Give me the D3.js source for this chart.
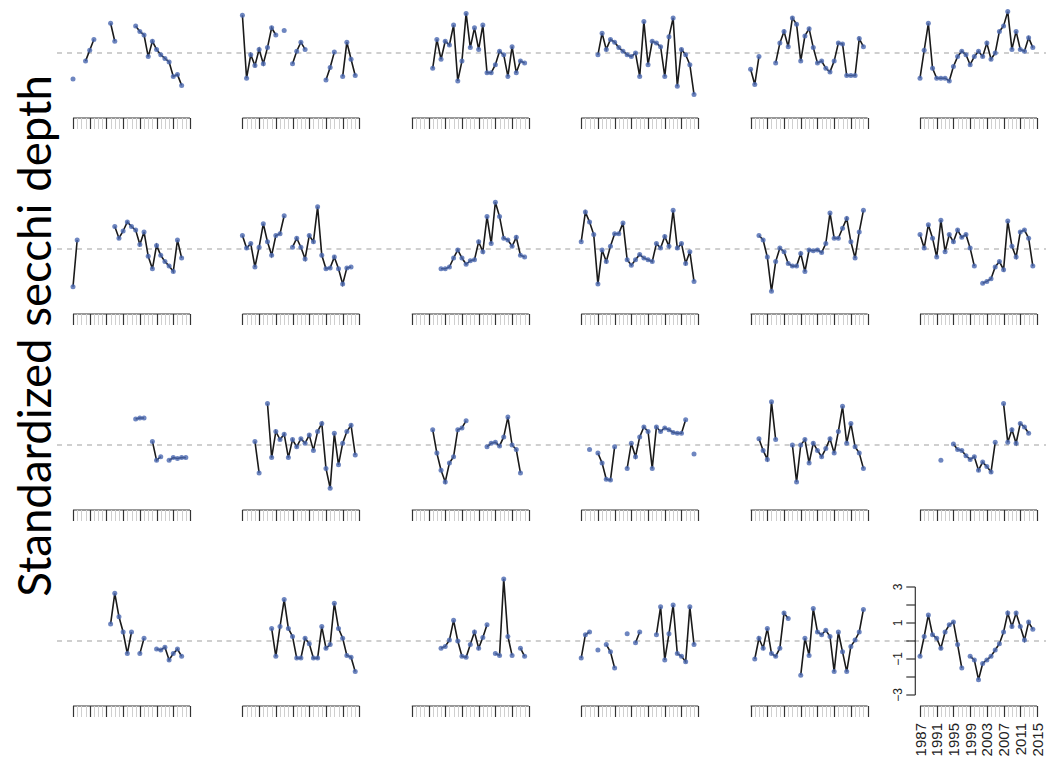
<!DOCTYPE html>
<html>
<head>
<meta charset="utf-8">
<script src="https://cdn.jsdelivr.net/npm/d3@7"></script>
<style>
  body { margin: 0; background: #fff; }
</style>
</head>
<body>
<script>

// years 1987..2015, null = no observation
let years = d3.range(1987, 2016)
let yearTicks = [1987, 1991, 1995, 1999, 2003, 2007, 2011, 2015]
let yTicks = [-3, -2, -1, 0, 1, 2, 3]
let yTickLabels = [3, 1, -1, -3]

// row 1
let s01 = [-1.45, null, null, -0.45, 0.15, 0.75, null, null, null, 1.65, 0.65, null, null, null, null, 1.5, 1.2, 1.0, -0.2, 0.65, 0.2, -0.1, -0.3, -0.5, -1.3, -1.2, -1.8, null, null]
let s02 = [2.1, -1.4, -0.1, -0.7, 0.2, -0.6, 0.3, 1.4, 1.0, null, 1.25, null, -0.6, 0.1, 0.6, 0.2, null, null, null, null, -1.5, -0.8, 0.05, null, -1.3, 0.6, -0.35, -1.25, null]
let s03 = [null, null, null, null, null, -0.85, 0.75, -0.35, 0.65, 0.45, 1.55, -1.55, -0.45, 2.2, 0.3, 1.4, 0.2, 1.55, -1.1, -1.1, -0.65, 0.1, -0.1, -1.3, 0.35, -1.1, -0.45, -0.55, null]
let s04 = [null, null, null, null, -0.1, 1.1, 0.2, 0.75, 0.6, 0.3, 0.1, -0.1, -0.2, 0.0, -1.3, 1.75, -0.65, 0.65, 0.55, 0.35, -1.3, 0.9, 1.95, -1.85, 0.2, -0.1, -0.65, -2.3, null]
let s05 = [-0.9, -1.75, -0.2, null, null, null, -0.55, 0.55, 1.2, 0.35, 1.95, 1.6, -0.45, 0.95, 1.35, 0.3, -0.55, -0.45, -0.85, -1.05, -0.45, 0.55, 0.5, -1.25, -1.25, -1.25, 0.8, 0.35, null]
let s06 = [-1.4, 0.15, 1.65, -0.85, -1.4, -1.4, -1.4, -1.55, -0.75, -0.2, 0.1, -0.1, -0.65, -0.2, 0.1, -0.2, 0.55, -0.35, 0.0, 1.2, 1.5, 2.3, 0.2, 1.2, 0.2, 0.1, 0.85, 0.3, null]
// row 2
let s07 = [-2.1, 0.5, null, null, null, null, null, null, null, null, 1.25, 0.6, 1.0, 1.5, 1.25, 1.05, 0.25, 0.95, -0.4, -1.1, 0.2, -0.35, -0.7, -0.95, -1.25, 0.5, -0.5, null, null]
let s08 = [0.75, 0.05, 0.3, -1.0, 0.1, 1.4, 0.4, -0.35, 0.75, 0.85, 1.85, null, 0.1, 0.6, 0.1, -0.55, 0.75, 0.4, 2.35, -0.35, -1.1, -1.05, -0.45, -1.1, -1.95, -1.05, -1.0, null, null]
let s09 = [null, null, null, null, null, null, null, -1.1, -1.1, -1.0, -0.5, -0.05, -0.5, -0.85, -0.65, -0.6, 0.4, -0.15, 1.8, 0.3, 2.6, 1.8, 0.6, 0.5, 0.15, 0.65, -0.35, -0.45, null]
let s10 = [0.4, 2.05, 1.5, 0.8, -1.95, -0.05, -0.7, 0.15, 0.85, 0.85, 1.45, -0.6, -0.9, -0.6, -0.3, -0.5, -0.6, -0.7, 0.3, 0.05, 0.7, 0.15, 2.15, 0.05, 0.3, -0.8, -0.15, -1.8, null]
let s11 = [null, null, 0.75, 0.5, -0.45, -2.35, -0.7, 0.05, -0.15, -0.8, -0.95, -0.95, -0.25, -1.25, -0.05, -0.1, -0.05, -0.2, 0.3, 2.0, 0.6, 0.6, 1.15, 1.7, 0.4, -0.5, 0.95, 2.15, null]
let s12 = [0.8, 0.05, 1.35, 0.6, -0.45, 1.6, -0.15, 0.8, 0.4, 1.05, 0.65, 0.8, 0.05, -0.95, null, -1.9, -1.8, -1.65, -1.0, -0.7, -1.15, 1.55, 0.15, -0.45, 0.95, 1.05, 0.6, -0.95, null]
// row 3
let s13 = [null, null, null, null, null, null, null, null, null, null, null, null, null, null, null, 1.45, 1.5, 1.5, null, 0.2, -0.85, -0.65, null, -0.85, -0.7, -0.75, -0.7, -0.7, null]
let s14 = [null, null, null, 0.2, -1.55, null, 2.3, -0.7, 0.75, 0.3, 0.6, -0.7, 0.3, -0.1, 0.35, 0.1, 0.55, -0.3, 0.75, 1.2, -1.3, -2.4, 0.65, -1.1, 0.1, 0.75, 1.1, -0.55, null]
let s15 = [null, null, null, null, null, 0.85, -0.45, -1.4, -2.05, -1.0, -0.65, 0.85, 0.95, 1.35, null, null, null, null, -0.1, 0.1, 0.15, -0.05, 0.45, 1.55, 0.0, -0.25, -1.55, null, null]
let s16 = [null, null, -0.25, null, -0.45, -1.0, -1.9, -1.95, -0.1, null, null, -1.3, 0.1, -0.65, 0.45, 1.0, 0.75, -1.3, 1.0, 0.75, 0.95, 0.85, 0.7, 0.65, 0.65, 1.4, null, -0.5, null]
let s17 = [null, null, 0.35, -0.3, -0.8, 2.4, 0.3, null, null, null, 0.0, -2.05, 0.0, 0.3, -1.0, 0.1, -0.3, -0.65, -0.2, 0.35, -0.45, 0.75, 2.15, 0.1, 1.2, -0.1, -0.45, -1.3, null]
let s18 = [null, null, null, null, null, -0.85, null, null, 0.05, -0.25, -0.3, -0.6, -0.8, -0.65, -1.4, -0.95, -1.2, -1.5, 0.15, null, 2.3, 0.15, 0.85, 0.1, 1.2, 1.0, 0.65, null, null]
// row 4
let s19 = [null, null, null, null, null, null, null, null, null, 0.95, 2.65, 1.35, 0.5, -0.7, 0.5, null, -0.7, 0.15, null, null, -0.45, -0.5, -0.35, -1.05, -0.7, -0.45, -0.85, null, null]
let s20 = [null, null, null, null, null, null, null, 0.7, -0.85, 0.8, 2.3, 0.7, 0.25, -0.95, -0.95, 0.15, -0.15, -0.95, -0.95, 0.8, -0.4, -0.2, 2.1, 0.7, 0.15, -0.8, -0.9, -1.7, null]
let s21 = [null, null, null, null, null, null, null, -0.4, -0.3, 0.05, 1.15, 0.0, -0.85, -0.9, -0.2, 0.5, -0.4, 0.2, 0.9, null, -0.7, -0.8, 3.45, 0.25, -0.8, null, -0.4, -0.85, null]
let s22 = [-0.95, 0.35, 0.5, null, -0.5, null, -0.2, -0.6, -1.5, null, null, 0.4, null, -0.1, 0.5, null, null, null, 0.35, 1.9, -1.05, 0.4, 2.0, -0.7, -0.85, -1.15, 1.9, -0.2, null]
let s23 = [null, -1.0, 0.15, -0.4, 0.7, -0.7, -0.85, -0.4, 1.55, 1.25, null, null, -1.9, 0.15, -0.8, 1.8, 0.5, 0.35, 0.6, 0.25, -1.7, 0.5, -0.6, -1.7, -0.3, 0.05, 0.5, 1.75, null]
let s24 = [-0.85, 0.25, 1.45, 0.35, 0.15, -0.4, 0.5, 0.9, 1.05, -0.2, -1.5, null, -0.85, -1.05, -2.15, -1.25, -1.05, -0.85, -0.5, -0.15, 0.5, 1.55, 0.8, 1.55, 0.8, 0.05, 1.05, 0.65, null]

let series = [s01, s02, s03, s04, s05, s06, s07, s08, s09, s10, s11, s12,
  s13, s14, s15, s16, s17, s18, s19, s20, s21, s22, s23, s24]

let
  width = 1046,
  height = 772

let nCols = 6,
  nRows = 4

let svg = d3.select('body')
  .append('svg')
  .attr('width', width)
  .attr('height', height)
  .style('background', '#fff')

// left end of each panel's time axis, and zero line of each row
let colLeft = d3.scaleLinear().domain([0, nCols - 1]).range([73, 920])
let rowZero = d3.scaleLinear().domain([0, nRows - 1]).range([53, 641])
let axisWidth = 117
let unit = 18          // px per standardized unit
let axisDrop = 65      // x axis sits this far below zero line

let line = d3.line()
  .defined(d => d.v != null)
  .x(d => d.x)
  .y(d => d.y)

series.forEach((vals, i) => {
  let col = i % nCols
  let row = Math.floor(i / nCols)
  let left = colLeft(col)
  let zero = rowZero(row)

  let x = d3.scaleLinear().domain([1987, 2015]).range([left, left + axisWidth])
  let y = d3.scaleLinear().domain([-3, 3]).range([zero + 3 * unit, zero - 3 * unit])

  let g = svg.append('g')

  // zero reference line, joined up with neighbouring panels
  g.append('line')
    .attr('x1', left - 16)
    .attr('x2', left + 153)
    .attr('y1', y(0))
    .attr('y2', y(0))
    .attr('stroke', '#a0a0a0')
    .attr('stroke-width', 1.2)
    .attr('stroke-dasharray', '5,5')

  // x axis: line on top, ticks hanging down
  let axisY = zero + axisDrop
  g.append('line')
    .attr('x1', x(1987))
    .attr('x2', x(2015))
    .attr('y1', axisY)
    .attr('y2', axisY)
    .attr('stroke', '#333')
    .attr('stroke-width', 1.2)

  g.selectAll('.tick')
    .data(years)
    .enter()
    .append('line')
    .attr('x1', d => Math.round(x(d)) + 0.5)
    .attr('x2', d => Math.round(x(d)) + 0.5)
    .attr('y1', axisY)
    .attr('y2', axisY + 11)
    .attr('stroke', d => yearTicks.includes(d) ? '#333' : '#cfcfcf')
    .attr('stroke-width', d => yearTicks.includes(d) ? 1.2 : 1)

  let pts = years.map((yr, k) => ({ x: x(yr), y: vals[k] == null ? 0 : y(vals[k]), v: vals[k] }))

  g.append('path')
    .datum(pts)
    .attr('d', line)
    .attr('fill', 'none')
    .attr('stroke', '#1a1a1a')
    .attr('stroke-width', 1.6)

  g.selectAll('circle')
    .data(pts.filter(d => d.v != null))
    .enter()
    .append('circle')
    .attr('cx', d => d.x)
    .attr('cy', d => d.y)
    .attr('r', 2.5)
    .attr('fill', '#4a68b0')
    .attr('fill-opacity', 0.8)

  // only the last panel carries labelled axes
  if (i === series.length - 1) {
    let ax = x(1987) - 4.7
    g.append('line')
      .attr('x1', ax)
      .attr('x2', ax)
      .attr('y1', y(3))
      .attr('y2', y(-3))
      .attr('stroke', '#333')
      .attr('stroke-width', 1.2)

    g.selectAll('.ytick')
      .data(yTicks)
      .enter()
      .append('line')
      .attr('x1', ax - 9)
      .attr('x2', ax)
      .attr('y1', d => y(d))
      .attr('y2', d => y(d))
      .attr('stroke', '#333')
      .attr('stroke-width', 1.2)

    g.selectAll('.ylab')
      .data(yTickLabels)
      .enter()
      .append('text')
      .attr('transform', d => `translate(${ax - 13}, ${y(d)}) rotate(-90)`)
      .attr('text-anchor', 'middle')
      .attr('font-family', 'Liberation Sans, Arial, sans-serif')
      .attr('font-size', '12px')
      .attr('fill', '#222')
      .text(d => d < 0 ? '\u2212' + Math.abs(d) : d)

    g.selectAll('.xlab')
      .data(yearTicks)
      .enter()
      .append('text')
      .attr('transform', d => `translate(${x(d) + 5.5}, ${axisY + 17}) rotate(-90)`)
      .attr('text-anchor', 'end')
      .attr('font-family', 'Liberation Sans, Arial, sans-serif')
      .attr('font-size', '15px')
      .attr('fill', '#222')
      .text(d => d)
  }
})

// shared y label
let ylab = svg.append('text')
  .attr('transform', 'translate(51, 336) rotate(-90)')
  .attr('text-anchor', 'middle')
  .attr('font-family', 'Lato, "Open Sans", sans-serif')
  .attr('font-size', '42px')
  .attr('fill', '#000')
  .text('Standardized secchi depth')

let len = ylab.node().getComputedTextLength()
ylab.attr('font-size', (42 * 522 / len).toFixed(1) + 'px')

</script>
</body>
</html>
